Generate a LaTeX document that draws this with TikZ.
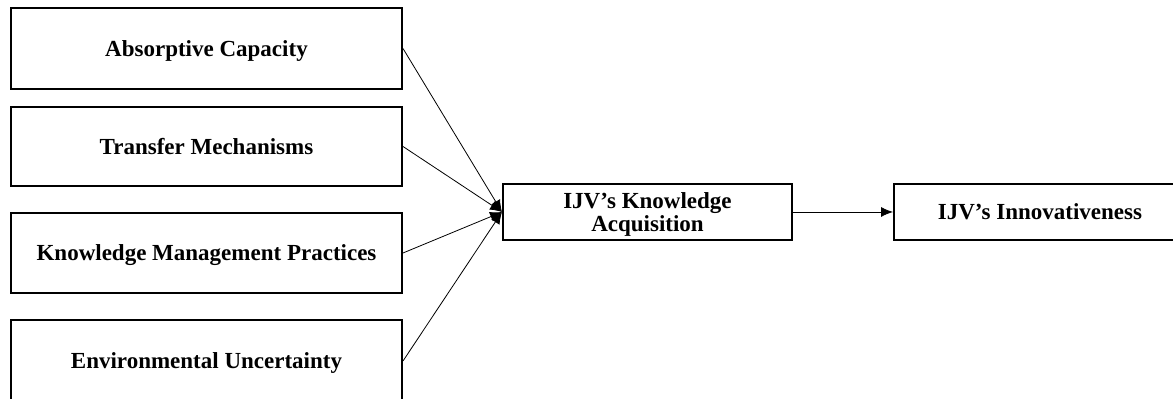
\documentclass[tikz,border=0pt]{standalone}
\usepackage{fontspec}
\setmainfont{Liberation Serif}
\usetikzlibrary{arrows.meta}

\begin{document}
\begin{tikzpicture}[x=0.5pt,y=-0.5pt,
		box/.style={draw,line width=1pt,inner sep=0pt,align=center,text depth=0pt,
			font=\fontsize{11.5}{11.5}\selectfont\bfseries},
		link/.style={-{Latex[length=6pt,width=5pt]},line width=0.4pt}]
			\useasboundingbox (0,0) rectangle (1173,399);
			\clip (0,0) rectangle (1173,399);
			
			\node[box,minimum width=195.5pt,minimum height=40.5pt] (abs)  at (206.5, 48.5){Absorptive Capacity};
			\node[box,minimum width=195.5pt,minimum height=39.5pt] (trans) at (206.5, 146.5){Transfer Mechanisms};
			\node[box,minimum width=195.5pt,minimum height=40pt] (kmp)  at (206.5, 253){Knowledge Management Practices};
			\node[box,minimum width=195.5pt,minimum height=41pt] (env)  at (206.5, 361){Environmental Uncertainty};
			
			\node[box,minimum width=144.5pt,minimum height=28pt] (acq)  at (647.5, 212){IJV's Knowledge\\Acquisition};
			\node[box,minimum width=146pt,minimum height=28pt] (innov)  at (1040, 212){IJV's Innovativeness};
			
			\draw[link] (abs.east) -- (acq.west);
			\draw[link] (trans.east) -- (acq.west);
			\draw[link] (kmp.east) -- (acq.west);
			\draw[link] (env.east) -- (acq.west);
			\draw[link] (acq) -- (innov);
		\end{tikzpicture}
\end{document}
